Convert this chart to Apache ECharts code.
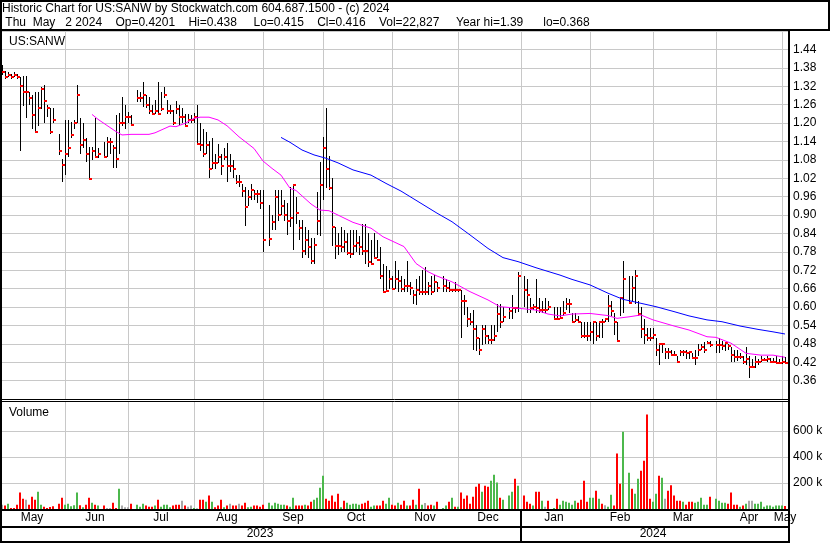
<!DOCTYPE html>
<html><head><meta charset="utf-8">
<script src="https://cdn.jsdelivr.net/npm/echarts@6/dist/echarts.min.js"></script>
<style>html,body{margin:0;padding:0;background:#fff}#c{width:830px;height:543px}</style>
</head><body><div id="c"></div>
<script>
// ---------- DATA ----------
const firstDay = '2023-05-03';
const lastDay = '2024-05-02';
const holidays = ['2023-05-29','2023-06-19','2023-07-04','2023-09-04','2023-11-23','2023-12-25','2024-01-01','2024-01-15','2024-02-19','2024-03-29'];
const monthNames = ['Jan','Feb','Mar','Apr','May','Jun','Jul','Aug','Sep','Oct','Nov','Dec'];

const high = [
 /*May*/ 1.39,1.37,1.365,1.36,1.365,1.36,1.35,1.353,1.353,1.30,1.29,1.30,1.30,1.317,1.323,1.26,1.25,1.25,null,1.163,1.083,
 /*Jun*/ 1.209,1.209,1.204,1.209,1.323,1.215,1.20,1.15,1.122,1.122,1.215,1.12,null,1.139,1.155,1.15,1.128,1.225,1.234,1.285,1.258,1.235,
 /*Jul*/ 1.225,null,1.306,1.30,1.334,1.29,1.285,1.26,1.274,1.333,1.301,1.317,1.274,1.258,1.242,1.271,1.258,1.25,1.23,1.23,1.225,
 /*Aug*/ 1.231,1.26,1.20,1.18,1.17,1.14,1.15,1.10,1.13,1.10,1.12,1.134,1.10,1.08,1.03,1.03,1.00,0.99,0.98,1.00,0.98,0.98,0.98,
 /*Sep*/ 0.98,null,0.933,0.90,0.98,0.98,0.98,0.95,0.94,0.99,1.00,0.96,0.885,0.885,0.86,0.85,0.825,0.826,0.975,1.074,1.155,
 /*Oct*/ 1.25,1.094,1.022,0.86,0.84,0.86,0.85,0.84,0.85,0.85,0.85,0.83,0.87,0.87,0.84,0.82,0.84,0.82,0.795,0.74,0.735,0.72,
 /*Nov*/ 0.70,0.75,0.72,0.70,0.69,0.75,0.68,0.655,0.69,0.70,0.72,0.73,0.68,0.70,0.705,0.68,null,0.70,0.69,0.68,0.66,0.68,
 /*Dec*/ 0.66,0.657,0.64,0.60,0.58,0.59,0.54,0.50,0.54,0.54,0.51,0.54,0.54,0.61,0.61,0.60,null,0.60,0.64,0.60,0.715,
 /*Jan*/ null,0.70,0.69,0.63,0.61,0.69,0.63,0.62,0.63,0.62,null,0.60,0.60,0.60,0.62,0.63,0.625,0.58,0.58,0.57,0.55,0.55,0.55,
 /*Feb*/ 0.55,0.55,0.55,0.55,0.56,0.565,0.64,0.62,0.58,0.55,0.63,0.75,null,0.70,0.70,0.72,0.62,0.60,0.56,0.53,0.53,
 /*Mar*/ 0.53,0.50,0.48,0.48,0.465,0.465,0.46,0.455,0.44,0.46,0.46,0.46,0.45,0.45,0.46,0.48,0.48,0.485,0.49,0.49,null,
 /*Apr*/ 0.49,0.50,0.49,0.485,0.48,0.47,0.46,0.46,0.45,0.44,0.47,0.44,0.43,0.44,0.43,0.44,0.435,0.44,0.435,0.435,0.44,0.43,
 /*May*/ 0.44,0.438
];
const low = [
 /*May*/ 1.355,1.345,1.35,1.345,1.35,1.345,1.11,1.255,1.215,1.26,1.18,1.17,1.19,1.245,1.20,1.22,1.165,1.20,null,1.096,1.009,
 /*Jun*/ 1.031,1.09,1.15,1.18,1.20,1.10,1.12,1.074,1.019,1.08,1.085,1.085,null,1.085,1.09,1.10,1.052,1.052,1.10,1.19,1.18,1.20,
 /*Jul*/ 1.19,null,1.27,1.27,1.252,1.25,1.23,1.225,1.23,1.225,1.24,1.28,1.23,1.23,1.195,1.23,1.193,1.20,1.19,1.20,1.20,
 /*Aug*/ 1.20,1.128,1.11,1.09,1.10,1.02,1.05,1.05,1.07,1.03,1.08,1.009,1.04,1.02,1.00,0.99,0.96,0.865,0.93,0.95,0.95,0.94,0.92,
 /*Sep*/ 0.78,null,0.80,0.85,0.85,0.88,0.90,0.88,0.836,0.86,0.785,0.87,0.82,0.76,0.77,0.76,0.74,0.74,0.836,0.83,0.95,
 /*Oct*/ 0.987,0.98,0.80,0.755,0.77,0.78,0.78,0.77,0.76,0.77,0.78,0.77,0.77,0.74,0.73,0.74,0.76,0.76,0.69,0.645,0.655,0.66,
 /*Nov*/ 0.655,0.66,0.65,0.65,0.65,0.65,0.64,0.61,0.605,0.64,0.64,0.64,0.64,0.64,0.65,0.65,null,0.65,0.65,0.65,0.65,0.65,
 /*Dec*/ 0.65,0.50,0.575,0.535,0.54,0.46,0.455,0.445,0.475,0.48,0.48,0.48,0.49,0.52,0.53,0.55,null,0.56,0.56,0.58,0.585,
 /*Jan*/ null,0.60,0.58,0.58,0.59,0.58,0.58,0.58,0.58,0.59,null,0.56,0.56,0.56,0.57,0.59,0.58,0.55,0.55,0.55,0.50,0.50,0.49,
 /*Feb*/ 0.49,0.48,0.49,0.50,0.50,0.55,0.55,0.57,0.51,0.49,0.57,0.58,null,0.61,0.62,0.61,0.57,0.50,0.48,0.49,0.49,
 /*Mar*/ 0.495,0.44,0.41,0.45,0.43,0.43,0.44,0.44,0.42,0.44,0.44,0.43,0.43,0.43,0.41,0.44,0.46,0.45,0.48,0.47,null,
 /*Apr*/ 0.45,0.45,0.46,0.455,0.46,0.42,0.42,0.425,0.43,0.415,0.41,0.368,0.40,0.40,0.41,0.42,0.425,0.42,0.42,0.42,0.42,0.42,
 /*May*/ 0.415,0.415
];
const close = [
 /*May*/ 1.366,1.35,1.358,1.35,1.357,1.35,1.32,1.30,1.30,1.282,1.225,1.171,1.25,1.311,1.272,1.25,1.171,1.21,null,1.109,1.062,
 /*Jun*/ 1.10,1.12,1.161,1.201,1.291,1.129,1.144,1.10,1.019,1.109,1.09,1.10,null,1.09,1.139,1.139,1.12,1.081,1.201,1.201,1.22,1.22,
 /*Jul*/ 1.193,null,1.283,1.283,1.291,1.258,1.239,1.23,1.239,1.23,1.246,1.291,1.239,1.239,1.199,1.246,1.22,1.22,1.191,1.21,1.21,
 /*Aug*/ 1.22,1.13,1.128,1.10,1.128,1.05,1.07,1.07,1.09,1.061,1.09,1.061,1.061,1.05,1.009,1.009,0.979,0.927,0.96,0.98,0.968,0.968,0.94,
 /*Sep*/ 0.818,null,0.822,0.877,0.96,0.90,0.93,0.90,0.879,0.89,0.999,0.908,0.856,0.782,0.817,0.795,0.751,0.802,0.879,0.999,1.12,
 /*Oct*/ 1.05,0.989,0.86,0.80,0.80,0.795,0.811,0.776,0.772,0.80,0.808,0.795,0.783,0.783,0.746,0.739,0.759,0.752,0.70,0.648,0.652,0.692,
 /*Nov*/ 0.659,0.69,0.684,0.66,0.67,0.67,0.663,0.638,0.654,0.648,0.648,0.648,0.67,0.648,0.68,0.662,null,0.67,0.662,0.657,0.657,0.657,
 /*Dec*/ 0.657,0.62,0.618,0.562,0.551,0.528,0.50,0.461,0.528,0.504,0.493,0.493,0.506,0.577,0.552,0.569,null,0.587,0.598,0.598,0.70,
 /*Jan*/ null,0.657,0.638,0.598,0.60,0.598,0.59,0.59,0.59,0.60,null,0.56,0.56,0.565,0.582,0.611,0.611,0.551,0.558,0.551,0.506,0.506,0.506,
 /*Feb*/ 0.519,0.551,0.506,0.551,0.551,0.562,0.603,0.587,0.551,0.49,0.63,0.69,null,0.614,0.663,0.70,0.576,0.528,0.509,0.50,0.50,
 /*Mar*/ 0.509,0.461,0.479,0.479,0.452,0.452,0.445,0.445,0.422,0.452,0.452,0.45,0.452,0.433,0.433,0.46,0.471,0.46,0.484,0.475,null,
 /*Apr*/ 0.475,0.475,0.473,0.481,0.474,0.443,0.436,0.436,0.436,0.42,0.43,0.403,0.403,0.42,0.42,0.427,0.427,0.43,0.42,0.42,0.416,0.416,
 /*May*/ 0.42,0.416
];
// daily volume, thousands of shares
const volumeK = [
 /*May*/ 33,26,41,8,8,33,126,79,72,33,95,72,133,33,18,8,15,21,null,41,87,
 /*Jun*/ 33,41,21,28,126,28,13,33,87,49,33,26,null,26,8,8,49,8,156,26,13,13,
 /*Jul*/ 41,null,33,18,41,26,18,18,26,72,18,33,33,13,26,33,33,64,26,18,26,
 /*Aug*/ 8,5,72,72,56,103,56,13,26,72,13,26,41,26,26,41,26,49,13,18,26,26,18,
 /*Sep*/ 33,null,49,26,49,41,33,33,26,18,87,26,26,26,33,26,56,72,87,164,256,
 /*Oct*/ 79,64,103,56,118,13,64,49,33,41,41,33,41,49,64,18,26,26,26,64,41,87,
 /*Nov*/ 33,26,49,33,64,26,26,72,33,156,33,46,26,33,26,56,null,8,26,56,87,18,
 /*Dec*/ 18,126,79,103,41,95,172,195,133,179,172,218,264,203,87,72,null,103,133,233,179,
 /*Jan*/ null,103,56,41,26,133,133,64,18,64,null,8,79,33,64,56,49,33,64,49,72,218,56,
 /*Feb*/ 87,87,141,79,41,28,18,110,26,426,195,595,null,279,156,118,233,295,372,726,79,
 /*Mar*/ 56,118,256,241,79,141,182,103,64,64,56,33,56,56,49,56,87,33,33,95,null,
 /*Apr*/ 79,64,49,49,41,126,33,33,18,26,41,64,64,41,41,56,18,26,26,18,26,26,
 /*May*/ 26,22.827
];
// day direction: u = up, d = down, n = unchanged, - = no trading
const volumeDir = [
 'ndudddddnddduudddd-dd', 'uuuuududdudu-dnnddunnn', 'd-uuuddduduuuudddndnn',
 'unddududddudnddndduuddd', 'd-uuuuuuduudddudduuuu', 'ddddduduuuuuddduuddduu',
 'ddudduddudunddud-uudud', 'udddddddudduuudu-uudu', '-ddduddund-uduuuuuudddd',
 'uududnuudddu-uduudddd', 'uudunddddduddduuuuud-', 'uuuuddddudunnuuuuuuuuu', 'ud'
].join('');

const maShortDates = ['2023-06-14','2023-06-16','2023-06-21','2023-06-26','2023-06-28','2023-07-03','2023-07-11','2023-07-13','2023-07-20','2023-07-24','2023-07-27','2023-08-01','2023-08-03','2023-08-08','2023-08-11','2023-08-16','2023-08-22','2023-08-29','2023-09-01','2023-09-06','2023-09-11','2023-09-14','2023-09-18','2023-09-25','2023-09-28','2023-10-03','2023-10-13','2023-10-23','2023-10-27','2023-11-07','2023-11-13','2023-11-17','2023-11-22','2023-11-29','2023-12-07','2023-12-15','2023-12-21','2023-12-29','2024-01-08','2024-01-12','2024-01-18','2024-01-24','2024-02-01','2024-02-09','2024-02-14','2024-02-20','2024-02-26','2024-03-01','2024-03-12','2024-03-19','2024-03-27','2024-04-01','2024-04-08','2024-04-15','2024-04-22','2024-04-26','2024-05-02'];
const maShortValues = [1.228,1.212,1.192,1.172,1.161,1.163,1.163,1.168,1.190,1.188,1.199,1.215,1.219,1.219,1.210,1.191,1.155,1.117,1.076,1.052,1.030,0.987,0.980,0.936,0.916,0.914,0.876,0.857,0.829,0.797,0.742,0.715,0.701,0.682,0.650,0.623,0.601,0.596,0.590,0.577,0.571,0.577,0.579,0.572,0.563,0.568,0.574,0.558,0.538,0.525,0.503,0.501,0.482,0.449,0.443,0.443,0.436];
const maLongDates = ['2023-09-11','2023-09-14','2023-09-20','2023-09-26','2023-10-02','2023-10-06','2023-10-13','2023-10-23','2023-10-30','2023-11-06','2023-11-14','2023-11-22','2023-11-29','2023-12-07','2023-12-15','2023-12-22','2023-12-29','2024-01-08','2024-01-12','2024-01-18','2024-01-24','2024-02-01','2024-02-09','2024-02-16','2024-02-26','2024-03-04','2024-03-12','2024-03-19','2024-03-27','2024-04-03','2024-04-11','2024-04-19','2024-04-26','2024-05-02'];
const maLongValues = [1.153,1.137,1.112,1.096,1.085,1.070,1.047,1.030,1.003,0.978,0.942,0.906,0.878,0.835,0.791,0.761,0.748,0.728,0.716,0.704,0.690,0.672,0.645,0.625,0.612,0.601,0.585,0.571,0.558,0.552,0.538,0.527,0.519,0.512];

const headerLine1 = 'Historic Chart for US:SANW by Stockwatch.com 604.687.1500 - (c) 2024';
const headerLine2 = ' Thu  May   2 2024    Op=0.4201    Hi=0.438     Lo=0.415    Cl=0.416    Vol=22,827     Year hi=1.39      lo=0.368';
const symbolLabel = 'US:SANW';
const volumeLabel = 'Volume';

// ---------- BUILD ----------
function weekdays(a, b) {
  const out = []; const d = new Date(a + 'T00:00:00Z'); const e = new Date(b + 'T00:00:00Z');
  while (d <= e) { const w = d.getUTCDay(); if (w > 0 && w < 6) out.push(d.toISOString().slice(0, 10)); d.setUTCDate(d.getUTCDate() + 1); }
  return out;
}
const dates = weekdays(firstDay, lastDay);
const cats = dates.concat(['']);
const N = dates.length;

const isMonthLine = cats.map((d, i) => {
  if (!d) return false;
  if (+d.slice(8, 10) === 1) return true;
  const nx = cats[i + 1];
  return !!nx && nx.slice(5, 7) !== d.slice(5, 7) && +nx.slice(8, 10) !== 1;
});
const lineIdx = []; isMonthLine.forEach((v, i) => { if (v) lineIdx.push(i); });
const bounds = [0].concat(lineIdx, [cats.length - 1]);
const monthLabelIdx = {};
for (let k = 0; k < bounds.length - 1; k++) {
  const m = Math.floor((bounds[k] + bounds[k + 1]) / 2);
  monthLabelIdx[m] = monthNames[+dates[m].slice(5, 7) - 1];
}
const yearStart = dates.indexOf('2024-01-01');
const yearLabelIdx = {};
yearLabelIdx[Math.floor(yearStart / 2)] = '2023';
yearLabelIdx[Math.floor((yearStart + cats.length - 1) / 2)] = '2024';

const ohlc = [];
for (let i = 0; i < N; i++) if (close[i] != null) ohlc.push([i, high[i], low[i], close[i]]);
const dirColor = { u: '#4cb84c', d: '#ff0000', n: '#a8a8a8' };
const volData = volumeK.map((v, i) => v == null ? '-' : { value: v, itemStyle: { color: dirColor[volumeDir[i]] || '#a8a8a8' } });
function placeMa(ds, vs) { const a = new Array(cats.length).fill(null); ds.forEach((d, k) => { const i = dates.indexOf(d); if (i >= 0) a[i] = vs[k]; }); return a; }
const maShort = placeMa(maShortDates, maShortValues);
const maLong = placeMa(maLongDates, maLongValues);

const FONT = "'Liberation Sans', Arial, sans-serif";
const GRIDC = '#c8c8c8';
const splitX = { show: true, interval: (i) => isMonthLine[i], lineStyle: { color: GRIDC, width: 1 } };

const chart = echarts.init(document.getElementById('c'), null, { renderer: 'canvas' });
chart.setOption({
  animation: false,
  backgroundColor: '#fff',
  textStyle: { fontFamily: FONT },
  title: [
    { text: headerLine1 + '\n' + headerLine2, left: 2, top: 2, padding: 0,
      textStyle: { fontSize: 12, fontWeight: 'normal', color: '#000', fontFamily: FONT, lineHeight: 13.5 } },
    { text: symbolLabel, left: 9, top: 35, padding: 0, textStyle: { fontSize: 12, fontWeight: 'normal', color: '#000', fontFamily: FONT, lineHeight: 14 } },
    { text: volumeLabel, left: 9, top: 406, padding: 0, textStyle: { fontSize: 12, fontWeight: 'normal', color: '#000', fontFamily: FONT, lineHeight: 14 } }
  ],
  grid: [
    { left: 2, top: 31, width: 786, height: 368 },
    { left: 2, top: 402, width: 786, height: 107 }
  ],
  xAxis: [
    { gridIndex: 0, type: 'category', data: cats, boundaryGap: false, axisLine: { show: false }, axisTick: { show: false }, axisLabel: { show: false }, splitLine: splitX },
    { gridIndex: 1, type: 'category', data: cats, boundaryGap: false, axisLine: { show: false },
      axisTick: { show: true, interval: (i) => i === yearStart, length: 18, lineStyle: { color: '#000', width: 2 } },
      axisLabel: { show: true, interval: (i) => monthLabelIdx[i] !== undefined, formatter: (v, i) => monthLabelIdx[i] || '', margin: 3, fontSize: 12, color: '#000', fontFamily: FONT },
      splitLine: splitX },
    { gridIndex: 1, type: 'category', data: cats, boundaryGap: false, position: 'bottom', offset: 18, axisLine: { show: false },
      axisTick: { show: true, interval: (i) => i === yearStart, length: 15, lineStyle: { color: '#000', width: 2 } },
      axisLabel: { show: true, interval: (i) => yearLabelIdx[i] !== undefined, formatter: (v, i) => yearLabelIdx[i] || '', margin: 1, fontSize: 12, color: '#000', fontFamily: FONT },
      splitLine: { show: false } }
  ],
  yAxis: [
    { gridIndex: 0, type: 'value', position: 'right', min: 0.30, max: 1.50, interval: 0.06,
      axisLine: { show: false }, axisTick: { show: false },
      axisLabel: { margin: 5, fontSize: 12, color: '#000', fontFamily: FONT, formatter: (v) => (v < 0.31 || v > 1.49) ? '' : v.toFixed(2) },
      splitLine: { show: true, lineStyle: { color: GRIDC, width: 1 } } },
    { gridIndex: 1, type: 'value', position: 'right', min: 0, max: 823, interval: 200,
      axisLine: { show: false }, axisTick: { show: false },
      axisLabel: { margin: 5, fontSize: 12, color: '#000', fontFamily: FONT, formatter: (v) => (v <= 0 || v >= 800) ? '' : (v + ' k') },
      splitLine: { show: true, lineStyle: { color: ['rgba(0,0,0,0)', GRIDC, GRIDC, GRIDC, 'rgba(0,0,0,0)', 'rgba(0,0,0,0)'], width: 1 } } }
  ],
  series: [
    { type: 'custom', xAxisIndex: 0, yAxisIndex: 0, data: ohlc, encode: { x: 0, y: [1, 2, 3] }, clip: false,
      renderItem: function (params, api) {
        const i = api.value(0);
        const ph = api.coord([i, api.value(1)]), pl = api.coord([i, api.value(2)]), pc = api.coord([i, api.value(3)]);
        const x = Math.round(ph[0]);
        const yh = Math.round(ph[1]), yl = Math.round(pl[1]), yc = Math.round(pc[1]);
        return { type: 'group', children: [
          { type: 'rect', shape: { x: x, y: yh, width: 1, height: Math.max(1, yl - yh) }, style: { fill: '#000' } },
          { type: 'rect', shape: { x: x, y: yc - 1, width: 3, height: 2 }, style: { fill: '#ff0000' } }
        ] };
      } },
    { type: 'line', xAxisIndex: 0, yAxisIndex: 0, data: maShort, connectNulls: true, showSymbol: false, symbol: 'none',
      lineStyle: { color: '#ff00ff', width: 1 }, z: 5 },
    { type: 'line', xAxisIndex: 0, yAxisIndex: 0, data: maLong, connectNulls: true, showSymbol: false, symbol: 'none',
      lineStyle: { color: '#0000ff', width: 1 }, z: 5 },
    { type: 'bar', xAxisIndex: 1, yAxisIndex: 1, data: volData, barWidth: 2 }
  ],
  graphic: [
    { type: 'line', shape: { x1: 0, y1: 1, x2: 830, y2: 1 }, style: { stroke: '#000', lineWidth: 2 }, z: 100 },
    { type: 'line', shape: { x1: 829, y1: 0, x2: 829, y2: 31 }, style: { stroke: '#000', lineWidth: 2 }, z: 100 },
    { type: 'line', shape: { x1: 0, y1: 30, x2: 830, y2: 30 }, style: { stroke: '#000', lineWidth: 2 }, z: 100 },
    { type: 'line', shape: { x1: 1, y1: 0, x2: 1, y2: 543 }, style: { stroke: '#000', lineWidth: 2 }, z: 100 },
    { type: 'line', shape: { x1: 789, y1: 30, x2: 789, y2: 543 }, style: { stroke: '#000', lineWidth: 2 }, z: 100 },
    { type: 'line', shape: { x1: 0, y1: 399.5, x2: 789, y2: 399.5 }, style: { stroke: '#000', lineWidth: 1 }, z: 100 },
    { type: 'line', shape: { x1: 0, y1: 401.5, x2: 789, y2: 401.5 }, style: { stroke: '#000', lineWidth: 1 }, z: 100 },
    { type: 'line', shape: { x1: 0, y1: 510, x2: 789, y2: 510 }, style: { stroke: '#000', lineWidth: 2 }, z: 100 },
    { type: 'line', shape: { x1: 0, y1: 527, x2: 789, y2: 527 }, style: { stroke: '#000', lineWidth: 2 }, z: 100 },
    { type: 'line', shape: { x1: 0, y1: 542, x2: 789, y2: 542 }, style: { stroke: '#000', lineWidth: 2 }, z: 100 }
  ]
});
</script></body></html>
